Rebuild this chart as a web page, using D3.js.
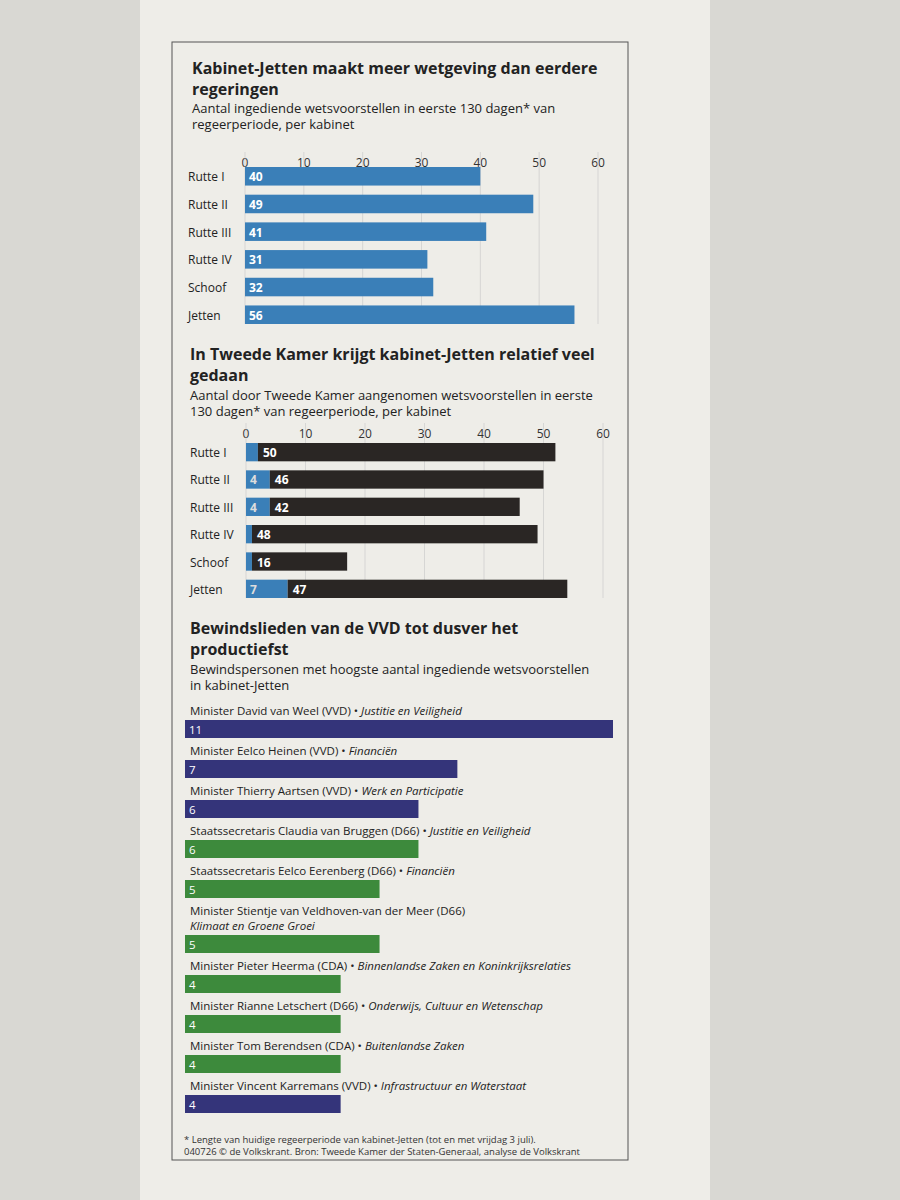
<!DOCTYPE html>
<html><head><meta charset="utf-8">
<script src="https://cdn.jsdelivr.net/npm/d3@7"></script>
<style>body{margin:0;background:#d9d8d3;font-family:"Open Sans",sans-serif}</style>
</head><body><svg id="c" width="900" height="1200"></svg>
<script>
const kabinetten = ["Rutte I","Rutte II","Rutte III","Rutte IV","Schoof","Jetten"];
const ingediend = [40,49,41,31,32,56];
const aangenomenA = [2,4,4,1,1,7];
const aangenomenB = [50,46,42,48,16,47];
const ticks = [0,10,20,30,40,50,60];
const personen = [
 ["Minister David van Weel (VVD) • ","Justitie en Veiligheid"],
 ["Minister Eelco Heinen (VVD) • ","Financiën"],
 ["Minister Thierry Aartsen (VVD) • ","Werk en Participatie"],
 ["Staatssecretaris Claudia van Bruggen (D66) • ","Justitie en Veiligheid"],
 ["Staatssecretaris Eelco Eerenberg (D66) • ","Financiën"],
 ["Minister Stientje van Veldhoven-van der Meer (D66)","Klimaat en Groene Groei"],
 ["Minister Pieter Heerma (CDA) • ","Binnenlandse Zaken en Koninkrijksrelaties"],
 ["Minister Rianne Letschert (D66) • ","Onderwijs, Cultuur en Wetenschap"],
 ["Minister Tom Berendsen (CDA) • ","Buitenlandse Zaken"],
 ["Minister Vincent Karremans (VVD) • ","Infrastructuur en Waterstaat"]];
const partij = ["VVD","VVD","VVD","D66","D66","D66","CDA","D66","CDA","VVD"];
const aantal = [11,7,6,6,5,5,4,4,4,4];

const svg = d3.select("#c");
svg.append("rect").attr("x",140).attr("y",0).attr("width",570).attr("height",1200).attr("fill","#eeede8");
svg.append("rect").attr("x",172).attr("y",42).attr("width",456).attr("height",1118).attr("fill","none").attr("stroke","#555").attr("stroke-width",1);
const blue="#3a7fb8", dark="#2a2624";
function txt(x,y,s,size,weight,fill){return svg.append("text").attr("x",x).attr("y",y).text(s).attr("font-size",size).attr("font-weight",weight||400).attr("fill",fill||"#222");}
// Chart 1
txt(192,74,"Kabinet-Jetten maakt meer wetgeving dan eerdere",16,700);
txt(192,95,"regeringen",16,700);
txt(192,113,"Aantal ingediende wetsvoorstellen in eerste 130 dagen* van",13);
txt(192,129,"regeerperiode, per kabinet",13);
function axis(x, y, y0, y1){
  ticks.forEach(t=>{
    txt(x(t),y,t,12,400,"#333").attr("text-anchor","middle");
    svg.append("line").attr("x1",x(t)).attr("x2",x(t)).attr("y1",y0).attr("y2",y1).attr("stroke","#ccc").attr("stroke-width",0.7);
  });
}
const x1 = d3.scaleLinear().domain([0,60]).range([245,598]);
const y1 = d3.scaleBand().domain(kabinetten).range([167,324]).paddingInner(0.33);
axis(x1,167,152,324);
kabinetten.forEach((k,i)=>{
  txt(188,y1(k)+y1.bandwidth()/2+5,k,12);
  svg.append("rect").attr("x",x1(0)).attr("y",y1(k)).attr("width",x1(ingediend[i])-x1(0)).attr("height",y1.bandwidth()).attr("fill",blue);
  txt(x1(0)+4,y1(k)+y1.bandwidth()/2+5,ingediend[i],12,700,"#fff");
});
// Chart 2
txt(190,360,"In Tweede Kamer krijgt kabinet-Jetten relatief veel",16,700);
txt(190,381,"gedaan",16,700);
txt(190,400,"Aantal door Tweede Kamer aangenomen wetsvoorstellen in eerste",13);
txt(190,416,"130 dagen* van regeerperiode, per kabinet",13);
const x2 = d3.scaleLinear().domain([0,60]).range([246,603]);
const y2 = d3.scaleBand().domain(kabinetten).range([443,598]).paddingInner(0.33);
axis(x2,438,423,598);
kabinetten.forEach((k,i)=>{
  const yy=y2(k), h=y2.bandwidth(), ty=yy+h/2+5;
  txt(190,ty,k,12);
  svg.append("rect").attr("x",x2(0)).attr("y",yy).attr("width",x2(aangenomenA[i])-x2(0)).attr("height",h).attr("fill",blue);
  svg.append("rect").attr("x",x2(aangenomenA[i])).attr("y",yy).attr("width",x2(aangenomenA[i]+aangenomenB[i])-x2(aangenomenA[i])).attr("height",h).attr("fill",dark);
  if(aangenomenA[i]>=3) txt(x2(0)+4,ty,aangenomenA[i],12,700,"#ddd");
  txt(x2(aangenomenA[i])+5,ty,aangenomenB[i],12,700,"#fff");
});
// Chart 3
txt(190,634,"Bewindslieden van de VVD tot dusver het",16,700);
txt(190,655,"productiefst",16,700);
txt(190,674,"Bewindspersonen met hoogste aantal ingediende wetsvoorstellen",13);
txt(190,690,"in kabinet-Jetten",13);
const x3 = d3.scaleLinear().domain([0,11]).range([185,613]);
const kleur = {VVD:"#34347a",D66:"#3d8a3c",CDA:"#3d8a3c"};
let y=715;
personen.forEach((p,i)=>{
  const t=svg.append("text").attr("x",190).attr("y",y).attr("font-size",11.5).attr("fill","#222");
  if(i===5){
    t.text(p[0]);
    y+=15;
    svg.append("text").attr("x",190).attr("y",y).attr("font-size",11.5).attr("font-style","italic").attr("fill","#222").text(p[1]);
  } else {
    t.append("tspan").text(p[0]);
    t.append("tspan").attr("font-style","italic").text(p[1]);
  }
  svg.append("rect").attr("x",x3(0)).attr("y",y+5).attr("width",x3(aantal[i])-x3(0)).attr("height",18).attr("fill",kleur[partij[i]]);
  txt(x3(0)+4,y+19,aantal[i],11.5,400,"#fff");
  y+=40;
});
txt(184,1143,"* Lengte van huidige regeerperiode van kabinet-Jetten (tot en met vrijdag 3 juli).",9.5,400,"#333");
txt(184,1155,"040726 © de Volkskrant. Bron: Tweede Kamer der Staten-Generaal, analyse de Volkskrant",9.5,400,"#333");
</script></body></html>
